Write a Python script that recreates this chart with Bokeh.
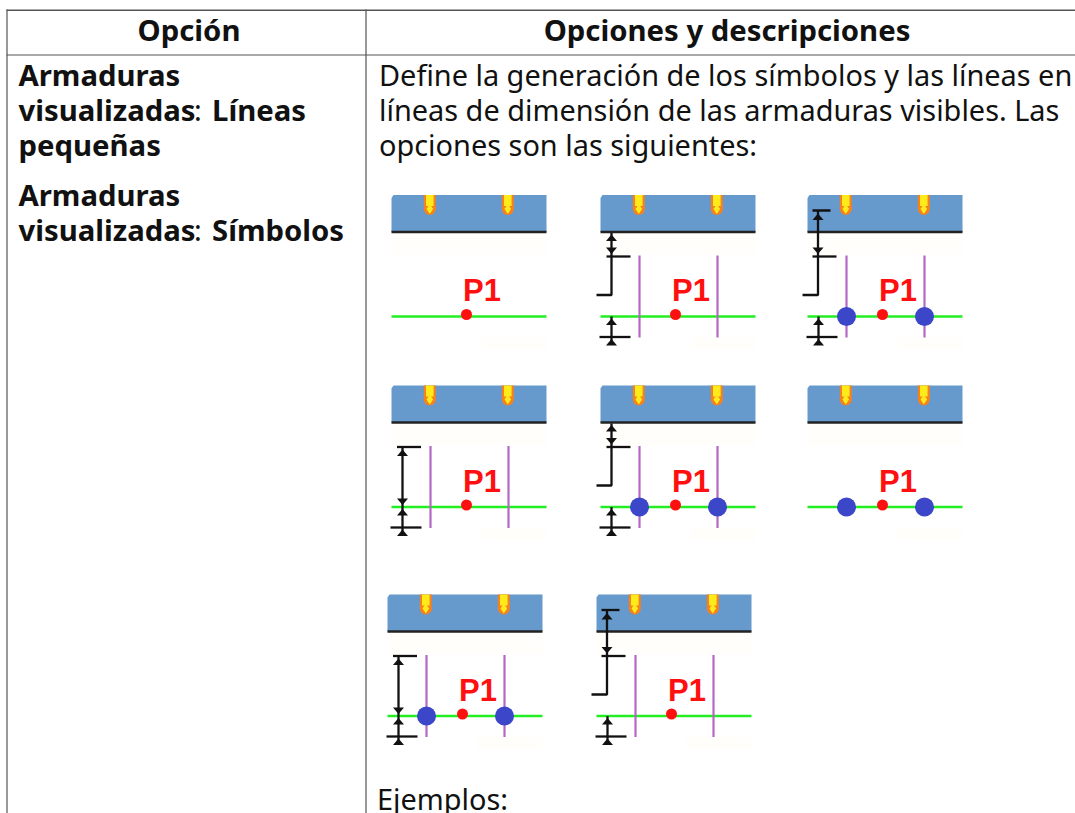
from bokeh.plotting import figure
from bokeh.models import Range1d
from bokeh.core.properties import value
from bokeh.embed import file_html
from bokeh.resources import INLINE

# ---- content ----
header_labels = ["Opción", "Opciones y descripciones"]
option_bold_1 = "Armaduras"
option_bold_2 = "visualizadas"
option_sep = ":"
option_names = ["Líneas", "pequeñas", "Símbolos"]
body_lines = ["Define la generación de los símbolos y las líneas en",
              "líneas de dimensión de las armaduras visibles. Las",
              "opciones son las siguientes:"]
examples_label = "Ejemplos:"
point_label = "P1"
# flags of each small drawing: upper dimension, lower dimension, section lines, symbols
panel_upper = [None, "short", "long", "tall", "short", None, "tall", "long"]
panel_lower = [False, True, True, True, True, False, True, True]
panel_lines = [False, True, True, True, True, False, True, True]
panel_symbols = [False, False, True, False, True, True, True, False]

# ---- canvas in page pixels ----
W, H = 1075, 813
p = figure(width=W, height=H, x_range=Range1d(0, W), y_range=Range1d(H, 0),
           x_axis_type=None, y_axis_type=None, toolbar_location=None,
           output_backend="svg", min_border=0, outline_line_color=None,
           background_fill_color="white", border_fill_color="white")
p.grid.visible = False
p.styles = {"position": "absolute", "left": "0px", "top": "0px"}

# ---- table rules ----
RULE = "#555555"
p.line([6.5, 6.5], [9, H], color=RULE, line_width=1.2)
p.line([6, W], [9.7, 9.7], color=RULE, line_width=1.6)
p.line([6, W], [54.5, 54.5], color=RULE, line_width=1.2)
p.line([365.5, 365.5], [9, H], color=RULE, line_width=1.2)

# ---- table texts ----
FS_BOLD, FS_BODY = 29.3, 28.9
FONT = value("Noto Sans")
INK = "#111111"

def label(x, y, s, bold=False, align="left"):
    fs = FS_BOLD if bold else FS_BODY
    p.text([x], [y - 0.33 * fs - 2], text=[s], text_font=FONT, text_font_size=f"{fs}px",
           text_font_style="bold" if bold else "normal", text_color=INK,
           text_align=align, text_baseline="alphabetic")

label(188.5, 41, header_labels[0], True, "center")
label(726.5, 41, header_labels[1], True, "center")
label(18, 86, option_bold_1, True)
label(18, 121, option_bold_2, True)
label(193.5, 121, option_sep)
label(211.5, 121, option_names[0], True)
label(18, 156, option_names[1], True)
label(18, 206, option_bold_1, True)
label(18, 241, option_bold_2, True)
label(193.5, 241, option_sep)
label(211.5, 241, option_names[2], True)
for y, s in zip([86, 121, 156], body_lines):
    label(378.5, y, s)
label(376.5, 809.5, examples_label)

# ---- small drawings ----
origins = [(391, 194.5), (600, 194.5), (807, 194.5),
           (391, 385), (600, 385), (807, 385),
           (387, 594), (596, 594)]
BEAM, EDGE = "#6699CC", "#222222"
ORANGE, YELLOW = "#F5811F", "#FFEA1A"
GREEN, PURPLE = "#22EE22", "#B468C4"
RED, BLUE = "#FF1010", "#3C46C8"
BLACK = "#111111"

def seg(ox, oy, xs, ys, color=BLACK, w=2.3):
    p.line([ox + x for x in xs], [oy + y for y in ys], color=color, line_width=w)

def tri(ox, oy, x, y0, y1):
    # y0 is the apex, y1 the base
    p.patch([ox + x, ox + x - 5.5, ox + x + 5.5], [oy + y0, oy + y1, oy + y1],
            color=BLACK, line_width=0)

for (ox, oy), up, low, lines, sym in zip(origins, panel_upper, panel_lower,
                                         panel_lines, panel_symbols):
    # faint compression halos
    p.quad(left=ox, right=ox + 155, top=oy + 38, bottom=oy + 60,
           color="#FFFEFA", line_width=0)
    p.quad(left=ox + 90, right=ox + 155, top=oy + 142, bottom=oy + 155,
           color="#FFFEFA", line_width=0)
    # beam
    p.patch([ox + 2, ox + 155, ox + 155, ox, ox],
            [oy, oy, oy + 37, oy + 37, oy + 3], color=BEAM, line_width=0)
    seg(ox, oy, [0, 155], [37, 37], EDGE, 2.6)
    # rebars
    for bx in (38.3, 116.3):
        p.quad(left=ox + bx - 6, right=ox + bx + 6, top=oy, bottom=oy + 14,
               color=ORANGE, line_width=0)
        p.scatter([ox + bx], [oy + 14], size=12, color=ORANGE, line_width=0)
        p.quad(left=ox + bx - 3.8, right=ox + bx + 3.8, top=oy, bottom=oy + 11,
               color=YELLOW, line_width=0)
        p.scatter([ox + bx], [oy + 14], marker="diamond", size=10, color=YELLOW,
                  line_width=0)
    # grid line
    seg(ox, oy, [0, 155], [121.5, 121.5], GREEN, 2.3)
    # section lines
    if lines:
        for lx in (39, 117):
            seg(ox, oy, [lx, lx], [60.5, 142.5], PURPLE, 2.2)
    # symbols
    if sym:
        p.scatter([ox + 39, ox + 117], [oy + 121.5] * 2, size=19, color=BLUE, line_width=0)
    # point and label
    p.scatter([ox + 75], [oy + 119.5], size=11, color=RED, line_width=0)
    p.text([ox + 90.5], [oy + 105.5 - 10], text=[point_label], text_font=value("Liberation Sans"),
           text_font_size="31px", text_font_style="bold", text_color=RED,
           text_align="center", text_baseline="alphabetic")
    # dimensions
    if low:
        seg(ox, oy, [11, 11], [121.5, 150])
        seg(ox, oy, [-1, 30], [142, 142])
        tri(ox, oy, 11, 123.5, 130)
        tri(ox, oy, 11, 144, 150.5)
    if up == "short":
        seg(ox, oy, [11, 11, -4], [38, 100, 100])
        seg(ox, oy, [6, 30], [61.5, 61.5])
        tri(ox, oy, 11, 39.5, 46)
        tri(ox, oy, 11, 59, 52.5)
    elif up == "long":
        seg(ox, oy, [10.5, 10.5, -5], [15.5, 100, 100])
        seg(ox, oy, [5, 23], [15.5, 15.5])
        seg(ox, oy, [5, 29], [61.5, 61.5])
        tri(ox, oy, 10.5, 18.5, 25)
        tri(ox, oy, 10.5, 59, 52.5)
    elif up == "tall":
        seg(ox, oy, [11, 11], [61.5, 121.5])
        seg(ox, oy, [5.5, 29.5], [61.5, 61.5])
        tri(ox, oy, 11, 64, 70.5)
        tri(ox, oy, 11, 119.5, 113)

open("out.html", "w").write(file_html(p, INLINE))
